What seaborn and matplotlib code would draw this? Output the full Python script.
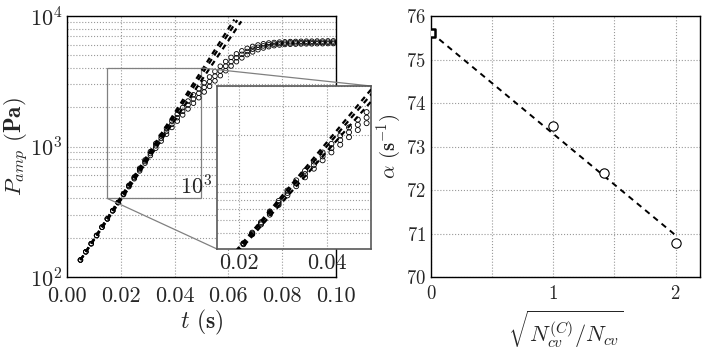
"""Growth of pressure amplitude and extrapolation of growth rate"""

import matplotlib
matplotlib.use('Agg')
import matplotlib.pyplot as plt
import seaborn as sns
from matplotlib.ticker import FixedLocator, FuncFormatter, NullFormatter
from mpl_toolkits.axes_grid1.inset_locator import mark_inset

# time samples (s)
t = [0.005, 0.007, 0.009, 0.011, 0.013, 0.015, 0.017, 0.019, 0.021, 0.023,
     0.025, 0.027, 0.029, 0.031, 0.033, 0.035, 0.037, 0.039, 0.041, 0.043,
     0.045, 0.047, 0.049, 0.051, 0.053, 0.055, 0.057, 0.059, 0.061, 0.063,
     0.065, 0.067, 0.069, 0.071, 0.073, 0.075, 0.077, 0.079, 0.081, 0.083,
     0.085, 0.087, 0.089, 0.091, 0.093, 0.095, 0.097, 0.099]

# pressure amplitude (Pa), three grids
p_run1 = [135, 156, 180, 208, 241, 279, 322, 372, 434, 504,
          584, 680, 788, 914, 1055, 1207, 1377, 1563, 1766, 1986,
          2229, 2489, 2767, 3076, 3412, 3758, 4121, 4477, 4819, 5128,
          5408, 5650, 5848, 5997, 6123, 6209, 6266, 6310, 6338, 6368,
          6382, 6398, 6412, 6412, 6427, 6427, 6442, 6442]
p_run2 = [135, 156, 180, 208, 241, 279, 322, 372, 431, 498,
          575, 665, 767, 883, 1012, 1153, 1309, 1479, 1663, 1862,
          2080, 2312, 2559, 2838, 3141, 3459, 3793, 4130, 4467, 4786,
          5082, 5346, 5572, 5754, 5902, 6012, 6095, 6152, 6194, 6223,
          6237, 6252, 6266, 6266, 6281, 6281, 6295, 6295]
p_run3 = [135, 156, 180, 208, 241, 279, 322, 372, 428, 492,
          566, 650, 746, 853, 971, 1101, 1244, 1400, 1566, 1746,
          1941, 2148, 2366, 2618, 2891, 3184, 3491, 3810, 4140, 4467,
          4776, 5059, 5309, 5520, 5689, 5821, 5929, 5998, 6053, 6081,
          6095, 6110, 6123, 6123, 6138, 6138, 6152, 6152]

# exponential fits (start / end points)
fit_t_start = [0.005, 0.005, 0.005]
fit_p_start = [135, 135, 135]
fit_t_end = [0.0622, 0.0633, 0.0648]
fit_p_end = [9400, 9300, 9100]

# growth rate vs grid refinement
ratio = [1.0, 1.414, 2.0]
alpha = [73.47, 72.39, 70.78]
ratio_extrap = [0.0]
alpha_extrap = [75.62]
line_ratio = [0.0, 2.0]
line_alpha = [75.62, 70.96]

sns.set_style('white')
plt.rcParams.update({
    'font.family': 'serif',
    'font.serif': ['cmr10'],
    'mathtext.fontset': 'cm',
    'axes.formatter.use_mathtext': True,
    'axes.unicode_minus': False,
    'xtick.direction': 'in',
    'ytick.direction': 'in',
})

fig = plt.figure(figsize=(7.06, 3.59), dpi=100)
ax1 = fig.add_axes([0.0949, 0.2284, 0.381, 0.727])
ax2 = fig.add_axes([0.6105, 0.2284, 0.381, 0.727])
axins = fig.add_axes([0.3074, 0.3064, 0.2181, 0.454])

grid_kw = dict(color='0.6', linestyle=':', linewidth=0.8)


def draw_growth(ax, s):
    for p in (p_run1, p_run2, p_run3):
        sns.scatterplot(x=t, y=p, ax=ax, marker='o', s=s, fc='none', ec='k',
                        linewidth=0.6, legend=False, zorder=3)
    for t0, p0, t1, p1 in zip(fit_t_start, fit_p_start, fit_t_end, fit_p_end):
        sns.lineplot(x=[t0, t1], y=[p0, p1], ax=ax, color='k', lw=1.6, zorder=4)
        ax.lines[-1].set_dashes((2.4, 2.0))


# left panel
ax1.set_yscale('log')
draw_growth(ax1, 11)
ax1.set_xlim(0, 0.1)
ax1.set_ylim(100, 1e4)
ax1.set_xticks([0.0, 0.02, 0.04, 0.06, 0.08, 0.1])
ax1.xaxis.set_major_formatter(FuncFormatter(lambda v, _: f'{v:.2f}'))
ax1.tick_params(labelsize=16)
ax1.tick_params(axis='x', pad=7)
ax1.grid(True, which='both', axis='y', **grid_kw)
ax1.grid(True, which='major', axis='x', **grid_kw)
ax1.set_xlabel(r'$t$ $\mathbf{(s)}$', fontsize=17, labelpad=1)
ax1.set_ylabel(r'$P_{amp}$ $\mathbf{(Pa)}$', fontsize=16.5)
ax1.yaxis.set_label_coords(-0.135, 0.5)

# inset
axins.set_yscale('log')
draw_growth(axins, 13)
axins.set_xlim(0.015, 0.05)
axins.set_ylim(400, 4000)
axins.xaxis.set_major_locator(FixedLocator([0.02, 0.03, 0.04]))
axins.xaxis.set_major_formatter(
    FuncFormatter(lambda v, _: '' if abs(v - 0.03) < 1e-6 else f'{v:.2f}'))
axins.yaxis.set_minor_formatter(NullFormatter())
axins.tick_params(labelsize=16, length=0, which='both')
axins.grid(True, which='both', **grid_kw)
axins.set_xlabel('')
axins.set_ylabel('')
for sp in axins.spines.values():
    sp.set_color('0.35')
    sp.set_linewidth(1.2)
mark_inset(ax1, axins, loc1=1, loc2=3, fc='none', ec='0.5', lw=0.9)

# right panel
sns.lineplot(x=line_ratio, y=line_alpha, ax=ax2, color='k', lw=1.4, zorder=3)
ax2.lines[-1].set_dashes((3, 2.5))
sns.scatterplot(x=ratio, y=alpha, ax=ax2, marker='o', s=45, fc='white', ec='k',
                linewidth=0.8, legend=False, zorder=4)
sns.scatterplot(x=ratio_extrap, y=alpha_extrap, ax=ax2, marker='s', s=35,
                fc='white', ec='k', linewidth=1.8, legend=False, zorder=4)
ax2.set_xlim(0, 2.2)
ax2.set_ylim(70, 76)
ax2.set_xticks([0, 1, 2])
ax2.set_xticks([0.5, 1.5], minor=True)
ax2.set_yticks([70, 71, 72, 73, 74, 75, 76])
ax2.tick_params(labelsize=13.5)
ax2.tick_params(axis='x', pad=6)
ax2.grid(True, which='both', **grid_kw)
ax2.set_xlabel(r'$\sqrt{N_{cv}^{(C)}/N_{cv}}$', fontsize=16, labelpad=4)
ax2.set_ylabel(r'$\alpha$ $\mathbf{(s^{-1})}$', fontsize=15, labelpad=2)

for ax in (ax1, ax2):
    for sp in ax.spines.values():
        sp.set_color('k')
        sp.set_linewidth(1.0)

fig.savefig('out.png', dpi=100)
